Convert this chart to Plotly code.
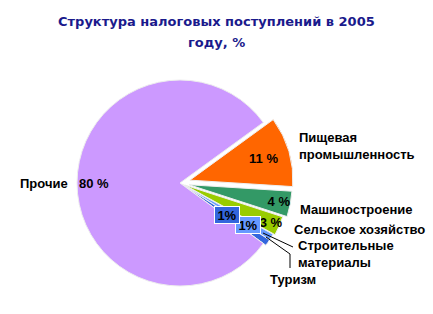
import plotly.graph_objects as go

categories = ["Пищевая<br>промышленность", "Машиностроение", "Сельское хозяйство",
              "Строительные<br>материалы", "Туризм", "Прочие"]
values = [11, 4, 3, 1, 1, 80]
colors = ["#ff6600", "#339966", "#99cc00", "#6699ff", "#3366dd", "#cc99ff"]
pulls = [0.1, 0.09, 0.05, 0.03, 0.03, 0]

W, H = 433, 314

def px(x):
    return x / W

def py(y):
    return 1 - y / H

# percentages drawn inside the pie for the mid-sized slices
texts = [f"<b>{v} %</b>" if 1 < v < 50 else "" for v in values]

fig = go.Figure(go.Pie(
    labels=categories, values=values, sort=False, direction="clockwise",
    rotation=54, pull=pulls, text=texts, textinfo="text",
    textposition="inside", insidetextorientation="horizontal",
    textfont=dict(family="Liberation Sans", size=13, color="#000000"),
    marker=dict(colors=colors, line=dict(color="#eeeeee", width=1)),
    domain=dict(x=[px(66.7), px(293.3)], y=[py(296.3), py(69.7)]),
    hoverinfo="label+percent",
))

lab_font = dict(family="Liberation Sans", size=13, color="#000000")
label_pos = [(297, 146, "left"), (298, 209, "left"), (292, 230, "left"),
             (296, 254, "left"), (268, 279, "left"), (70, 183, "right")]
ann = []
for cat, (x, y, anc) in zip(categories, label_pos):
    ann.append(dict(x=px(x), y=py(y), xref="paper", yref="paper", text=f"<b>{cat}</b>",
                    showarrow=False, xanchor=anc, yanchor="middle", align="left",
                    font=lab_font))

# big slice percentage near its outer edge
ann.append(dict(x=px(94), y=py(183), xref="paper", yref="paper",
                text=f"<b>{values[5]} %</b>", showarrow=False, xanchor="center",
                yanchor="middle", font=lab_font))

# small-slice percent boxes
box_pos = {3: (248.5, 225), 4: (226.5, 215)}
for i, (x, y) in box_pos.items():
    ann.append(dict(x=px(x), y=py(y), xref="paper", yref="paper",
                    text=f"<b>{values[i]}%</b>", showarrow=False,
                    xanchor="center", yanchor="middle", width=22, height=14,
                    bgcolor=colors[i], bordercolor="#ffffff", borderwidth=1, borderpad=1,
                    font=dict(family="Liberation Sans", size=13, color="#000000")))

title_font = dict(family="DejaVu Sans", size=13, color="#1a1a8c")
ann.append(dict(x=0.5, y=py(22), xref="paper", yref="paper", showarrow=False,
                text="<b>Структура налоговых поступлений в 2005</b>", font=title_font,
                xanchor="center", yanchor="middle"))
ann.append(dict(x=0.5, y=py(43), xref="paper", yref="paper", showarrow=False,
                text="<b>году, %</b>", font=title_font, xanchor="center", yanchor="middle"))

shapes = [
    dict(type="line", xref="paper", yref="paper", x0=px(263), y0=py(233), x1=px(293), y1=py(247),
         line=dict(color="#000000", width=1)),
    dict(type="path", xref="paper", yref="paper",
         path=f"M {px(266)} {py(237)} L {px(290)} {py(254)} L {px(290)} {py(268)}",
         line=dict(color="#000000", width=1)),
]

fig.update_layout(width=W, height=H, margin=dict(l=0, r=0, t=0, b=0),
                  paper_bgcolor="#ffffff", plot_bgcolor="#ffffff",
                  showlegend=False, annotations=ann, shapes=shapes,
                  uniformtext=dict(minsize=13, mode="show"))

fig.write_html("out.html")
